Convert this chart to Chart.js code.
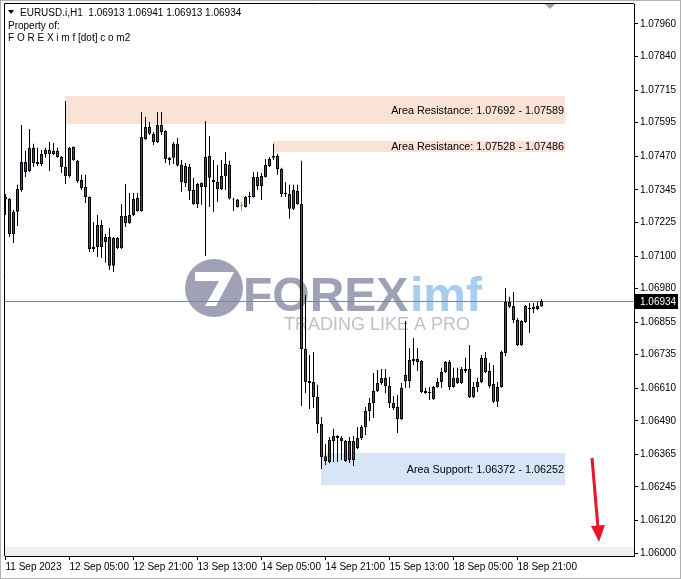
<!DOCTYPE html>
<html>
<head>
<meta charset="utf-8">
<script src="https://cdn.jsdelivr.net/npm/chart.js@4.4.0/dist/chart.umd.min.js"></script>
<style>
  html, body { margin: 0; padding: 0; background: #fff; }
  canvas { display: block; }
</style>
</head>
<body>
<canvas id="chart" width="681" height="579"></canvas>
<script>
// EURUSD H1 bars (11 Sep 2023 13:00 .. 19 Sep 01:00)
const symbol = "EURUSD.i,H1";
const opens = [
  1.07319, 1.07312, 1.07182, 1.07264, 1.07345, 1.07449, 1.07415, 1.07501, 1.07449, 1.07441,
  1.07478, 1.07493, 1.07478, 1.07490, 1.07467, 1.07430, 1.07397, 1.07504, 1.07453, 1.07382,
  1.07356, 1.07319, 1.07126, 1.07134, 1.07215, 1.07152, 1.07171, 1.07064, 1.07167, 1.07130,
  1.07249, 1.07223, 1.07252, 1.07315, 1.07267, 1.07534, 1.07579, 1.07553, 1.07523, 1.07586,
  1.07564, 1.07456, 1.07464, 1.07516, 1.07438, 1.07371, 1.07430, 1.07345, 1.07293, 1.07371,
  1.07356, 1.07471, 1.07382, 1.07375, 1.07349, 1.07397, 1.07438, 1.07312, 1.07310, 1.07287,
  1.07282, 1.07319, 1.07319, 1.07393, 1.07360, 1.07393, 1.07434, 1.07464, 1.07471, 1.07423,
  1.07330, 1.07330, 1.07275, 1.07341, 1.07293, 1.06756, 1.06637, 1.06634, 1.06578, 1.06478,
  1.06359, 1.06337, 1.06415, 1.06434, 1.06426, 1.06415, 1.06345, 1.06415, 1.06389, 1.06426,
  1.06467, 1.06526, 1.06556, 1.06600, 1.06630, 1.06649, 1.06619, 1.06556, 1.06541, 1.06497,
  1.06660, 1.06637, 1.06711, 1.06719, 1.06711, 1.06600, 1.06597, 1.06571, 1.06615, 1.06634,
  1.06671, 1.06708, 1.06615, 1.06649, 1.06630, 1.06682, 1.06682, 1.06578, 1.06615, 1.06634,
  1.06723, 1.06674, 1.06626, 1.06560, 1.06615, 1.06741, 1.06930, 1.06915, 1.06863, 1.06771,
  1.06856, 1.06904, 1.06904, 1.06904, 1.06913
];
const highs = [
  1.07330, 1.07315, 1.07271, 1.07364, 1.07586, 1.07490, 1.07571, 1.07516, 1.07501, 1.07493,
  1.07501, 1.07523, 1.07519, 1.07501, 1.07471, 1.07675, 1.07504, 1.07506, 1.07456, 1.07401,
  1.07401, 1.07321, 1.07226, 1.07252, 1.07234, 1.07182, 1.07204, 1.07171, 1.07171, 1.07293,
  1.07367, 1.07334, 1.07334, 1.07334, 1.07634, 1.07616, 1.07597, 1.07560, 1.07634, 1.07634,
  1.07566, 1.07467, 1.07523, 1.07538, 1.07456, 1.07445, 1.07441, 1.07390, 1.07371, 1.07373,
  1.07601, 1.07545, 1.07456, 1.07438, 1.07456, 1.07486, 1.07453, 1.07315, 1.07312, 1.07301,
  1.07323, 1.07338, 1.07412, 1.07412, 1.07408, 1.07460, 1.07467, 1.07516, 1.07478, 1.07427,
  1.07375, 1.07364, 1.07364, 1.07364, 1.07453, 1.06956, 1.06734, 1.06745, 1.06623, 1.06504,
  1.06404, 1.06430, 1.06460, 1.06437, 1.06434, 1.06419, 1.06430, 1.06434, 1.06467, 1.06474,
  1.06541, 1.06574, 1.06667, 1.06678, 1.06682, 1.06682, 1.06652, 1.06582, 1.06585, 1.06630,
  1.06860, 1.06760, 1.06797, 1.06760, 1.06715, 1.06612, 1.06615, 1.06619, 1.06649, 1.06686,
  1.06711, 1.06715, 1.06686, 1.06686, 1.06689, 1.06723, 1.06771, 1.06634, 1.06649, 1.06734,
  1.06745, 1.06704, 1.06697, 1.06634, 1.06749, 1.06982, 1.06949, 1.06967, 1.06871, 1.06862,
  1.06919, 1.06926, 1.06926, 1.06930, 1.06941
];
const lows = [
  1.07252, 1.07171, 1.07149, 1.07212, 1.07338, 1.07393, 1.07412, 1.07430, 1.07434, 1.07434,
  1.07464, 1.07415, 1.07475, 1.07464, 1.07408, 1.07367, 1.07390, 1.07453, 1.07371, 1.07345,
  1.07297, 1.07115, 1.07115, 1.07097, 1.07093, 1.07075, 1.07049, 1.07041, 1.07126, 1.07126,
  1.07208, 1.07219, 1.07249, 1.07264, 1.07264, 1.07530, 1.07549, 1.07512, 1.07519, 1.07549,
  1.07445, 1.07438, 1.07441, 1.07432, 1.07338, 1.07356, 1.07308, 1.07290, 1.07278, 1.07290,
  1.07100, 1.07282, 1.07264, 1.07301, 1.07345, 1.07345, 1.07310, 1.07267, 1.07280, 1.07267,
  1.07280, 1.07293, 1.07317, 1.07345, 1.07308, 1.07391, 1.07430, 1.07456, 1.07401, 1.07319,
  1.07319, 1.07238, 1.07271, 1.07290, 1.06545, 1.06593, 1.06534, 1.06537, 1.06445, 1.06311,
  1.06326, 1.06333, 1.06337, 1.06337, 1.06345, 1.06337, 1.06334, 1.06322, 1.06385, 1.06419,
  1.06437, 1.06489, 1.06500, 1.06597, 1.06623, 1.06593, 1.06537, 1.06530, 1.06445, 1.06493,
  1.06612, 1.06612, 1.06697, 1.06674, 1.06593, 1.06589, 1.06567, 1.06567, 1.06612, 1.06612,
  1.06667, 1.06604, 1.06612, 1.06626, 1.06626, 1.06667, 1.06574, 1.06574, 1.06597, 1.06630,
  1.06667, 1.06612, 1.06556, 1.06541, 1.06612, 1.06730, 1.06908, 1.06852, 1.06767, 1.06767,
  1.06852, 1.06815, 1.06889, 1.06900, 1.06913
];
const closes = [
  1.07310, 1.07182, 1.07264, 1.07349, 1.07449, 1.07412, 1.07501, 1.07445, 1.07441, 1.07478,
  1.07493, 1.07478, 1.07490, 1.07467, 1.07430, 1.07397, 1.07501, 1.07456, 1.07378, 1.07352,
  1.07319, 1.07126, 1.07134, 1.07215, 1.07134, 1.07171, 1.07064, 1.07167, 1.07130, 1.07249,
  1.07223, 1.07252, 1.07312, 1.07267, 1.07541, 1.07579, 1.07553, 1.07523, 1.07586, 1.07560,
  1.07460, 1.07464, 1.07516, 1.07436, 1.07375, 1.07434, 1.07341, 1.07293, 1.07367, 1.07356,
  1.07467, 1.07390, 1.07375, 1.07349, 1.07397, 1.07441, 1.07313, 1.07310, 1.07282, 1.07287,
  1.07319, 1.07323, 1.07393, 1.07360, 1.07397, 1.07438, 1.07460, 1.07471, 1.07423, 1.07330,
  1.07334, 1.07275, 1.07345, 1.07293, 1.06756, 1.06634, 1.06630, 1.06578, 1.06478, 1.06356,
  1.06341, 1.06419, 1.06434, 1.06426, 1.06415, 1.06341, 1.06415, 1.06345, 1.06426, 1.06467,
  1.06526, 1.06556, 1.06600, 1.06630, 1.06649, 1.06619, 1.06556, 1.06537, 1.06497, 1.06612,
  1.06637, 1.06715, 1.06719, 1.06708, 1.06597, 1.06593, 1.06593, 1.06615, 1.06634, 1.06671,
  1.06708, 1.06615, 1.06649, 1.06630, 1.06682, 1.06674, 1.06578, 1.06615, 1.06634, 1.06723,
  1.06671, 1.06619, 1.06560, 1.06615, 1.06745, 1.06930, 1.06912, 1.06863, 1.06771, 1.06860,
  1.06915, 1.06908, 1.06912, 1.06915, 1.06934
];

const yTickLabels = [
  "1.06000", "1.06120", "1.06245", "1.06365", "1.06490", "1.06610", "1.06735", "1.06855", "1.06980",
  "1.07100", "1.07225", "1.07345", "1.07470", "1.07595", "1.07715", "1.07840", "1.07960"
];
const xTickLabels = [
  "11 Sep 2023", "12 Sep 05:00", "12 Sep 21:00", "13 Sep 13:00", "14 Sep 05:00",
  "14 Sep 21:00", "15 Sep 13:00", "18 Sep 05:00", "18 Sep 21:00"
];
const barsPerXTick = 16;

// rectangles drawn on the chart
const zoneNames = ["Area Resistance", "Area Resistance", "Area Support"];
const zoneTop = [1.07692, 1.07528, 1.06372];
const zoneBottom = [1.07589, 1.07486, 1.06252];
const zoneFromBar = [15, 67, 79];
const zoneToBar = [140, 140, 140];

const BULL = "#0b7d0b", BEAR = "#ee1111", DOJI = "#00ff00";
const RES_FILL = "#fbe2d6", SUP_FILL = "#d6e6f6";
const BAR_STEP = 4; // px per hour bar, first bar centred on pixel column 5

Chart.defaults.font.family = "'Liberation Sans', Arial, sans-serif";
Chart.defaults.font.size = 10;
Chart.defaults.color = "#000";

const isDoji = i => opens[i] === closes[i];
const last = closes.length - 1;

const mt4Decor = {
  id: "mt4Decor",
  afterLayout(chart) {
    // keep every candle on whole pixels
    const x = chart.scales.x;
    x.min = -(5.5 - x.left) / BAR_STEP;
    x.max = x.min + (x.right - x.left) / BAR_STEP;
    x.configure();
  },
  beforeDatasetsDraw(chart) {
    const { ctx, chartArea: a, scales: { x, y } } = chart;
    ctx.save();
    // grey strip at the bottom of the window
    ctx.fillStyle = "#efefef";
    ctx.fillRect(a.left, a.bottom - 9, a.right - a.left, 9);

    // zones
    zoneNames.forEach((name, k) => {
      const x0 = Math.round(x.getPixelForValue(zoneFromBar[k]) - 0.5);
      const x1 = Math.round(x.getPixelForValue(zoneToBar[k]) - 0.5);
      const y0 = Math.round(y.getPixelForValue(zoneTop[k]));
      const y1 = Math.round(y.getPixelForValue(zoneBottom[k]));
      ctx.fillStyle = name.indexOf("Support") >= 0 ? SUP_FILL : RES_FILL;
      ctx.fillRect(x0, y0, x1 - x0, y1 - y0);
      ctx.fillStyle = "#000";
      ctx.font = "10.8px 'Liberation Sans', Arial, sans-serif";
      ctx.textAlign = "right";
      ctx.textBaseline = "middle";
      ctx.fillText(name + ": " + zoneTop[k].toFixed(5) + " - " + zoneBottom[k].toFixed(5), x1 - 1, (y0 + y1) / 2 + 1);
    });

    // watermark
    ctx.fillStyle = "rgba(150,150,175,0.9)";
    ctx.beginPath();
    ctx.arc(214, 288, 29, 0, Math.PI * 2);
    ctx.fill();
    ctx.fillStyle = "#fff";
    ctx.beginPath();
    ctx.moveTo(195, 272); ctx.lineTo(234, 272); ctx.lineTo(216, 306);
    ctx.lineTo(205, 306); ctx.lineTo(219, 281); ctx.lineTo(195, 281);
    ctx.closePath();
    ctx.fill();
    ctx.textAlign = "left";
    ctx.textBaseline = "alphabetic";
    ctx.font = "bold 48px 'Liberation Sans', Arial, sans-serif";
    ctx.fillStyle = "rgba(150,150,175,0.9)";
    ctx.fillText("FOREX", 243, 311);
    ctx.fillStyle = "rgba(160,200,235,0.9)";
    ctx.fillText("imf", 410, 311);
    ctx.font = "18px 'Liberation Sans', Arial, sans-serif";
    ctx.fillStyle = "rgba(185,185,198,0.9)";
    ctx.fillText("TRADING LIKE A PRO", 284, 330);

    // bid line
    const py = Math.round(y.getPixelForValue(closes[last])) + 0.5;
    ctx.strokeStyle = "#778899";
    ctx.lineWidth = 1;
    ctx.beginPath();
    ctx.moveTo(a.left, py);
    ctx.lineTo(a.right, py);
    ctx.stroke();
    ctx.restore();
  },
  afterDraw(chart) {
    const { ctx, chartArea: a, scales: { y } } = chart;
    ctx.save();
    // window frame
    ctx.strokeStyle = "#b0b0b0";
    ctx.lineWidth = 1;
    ctx.strokeRect(0.5, 0.5, chart.width - 1, chart.height - 1);
    ctx.strokeStyle = "#000";
    ctx.beginPath();
    ctx.moveTo(a.left - 0.5, a.bottom);
    ctx.lineTo(a.left - 0.5, a.top - 0.5);
    ctx.lineTo(a.right, a.top - 0.5);
    ctx.stroke();

    // header
    ctx.fillStyle = "#000";
    ctx.beginPath();
    ctx.moveTo(8, 10); ctx.lineTo(14, 10); ctx.lineTo(11, 14);
    ctx.closePath();
    ctx.fill();
    ctx.font = "10px 'Liberation Sans', Arial, sans-serif";
    ctx.textAlign = "left";
    ctx.textBaseline = "alphabetic";
    ctx.fillText(symbol + "  " + [opens[last], highs[last], lows[last], closes[last]].map(v => v.toFixed(5)).join(" "), 20, 16);
    ctx.fillText("Property of:", 8, 29);
    ctx.fillText("F O R E X i m f [dot] c o m2", 8, 41);

    // chart shift marker
    ctx.fillStyle = "#a0a0a0";
    ctx.beginPath();
    ctx.moveTo(545, 4); ctx.lineTo(555, 4); ctx.lineTo(550, 9);
    ctx.closePath();
    ctx.fill();

    // price tag
    const py = Math.round(y.getPixelForValue(closes[last]));
    ctx.fillStyle = "#000";
    ctx.fillRect(a.right + 1, py - 7, 43, 15);
    ctx.fillStyle = "#fff";
    ctx.textBaseline = "middle";
    ctx.fillText(closes[last].toFixed(5), a.right + 6, py + 1);

    // red arrow
    ctx.strokeStyle = "#e3182c";
    ctx.fillStyle = "#e3182c";
    ctx.lineWidth = 3;
    ctx.beginPath();
    ctx.moveTo(592, 458);
    ctx.lineTo(598, 528);
    ctx.stroke();
    ctx.beginPath();
    ctx.moveTo(599, 542); ctx.lineTo(591, 526); ctx.lineTo(605, 525);
    ctx.closePath();
    ctx.fill();
    ctx.restore();
  }
};

new Chart(document.getElementById("chart"), {
  type: "bar",
  data: {
    datasets: [
      {
        label: "wick",
        order: 2,
        grouped: false,
        barThickness: 1,
        inflateAmount: 0,
        borderWidth: 0,
        data: lows.map((l, i) => ({ x: i, y: [l, highs[i]] })),
        backgroundColor: lows.map((l, i) => (isDoji(i) ? DOJI : "#000"))
      },
      {
        label: "body",
        order: 1,
        grouped: false,
        barThickness: 3,
        inflateAmount: 0,
        borderSkipped: false,
        data: opens.map((o, i) => ({
          x: i,
          y: isDoji(i) ? [o - 0.00002, o + 0.00002] : [Math.min(o, closes[i]), Math.max(o, closes[i])]
        })),
        backgroundColor: opens.map((o, i) => (isDoji(i) ? DOJI : closes[i] > o ? BULL : BEAR)),
        borderColor: "#000",
        borderWidth: opens.map((o, i) => (isDoji(i) ? 0 : 1))
      }
    ]
  },
  options: {
    responsive: false,
    animation: false,
    layout: { padding: { left: 5, top: 4, right: 0, bottom: 5 } },
    plugins: { legend: { display: false }, tooltip: { enabled: false } },
    scales: {
      x: {
        type: "linear",
        position: "bottom",
        offset: false,
        min: -0.125,
        max: 157.125,
        afterBuildTicks: s => { s.ticks = xTickLabels.map((t, k) => ({ value: k * barsPerXTick })); },
        afterFit: s => { s.height = 18; s.paddingLeft = 0; s.paddingRight = 0; },
        ticks: {
          autoSkip: false,
          maxRotation: 0,
          align: "start",
          padding: 1,
          callback: (v, i) => xTickLabels[i]
        },
        grid: { drawOnChartArea: false, offset: false, tickLength: 4, color: "#000" },
        border: { color: "#000" }
      },
      y: {
        position: "right",
        beginAtZero: false,
        min: 1.05989,
        max: 1.08034,
        afterBuildTicks: s => { s.ticks = yTickLabels.map(t => ({ value: parseFloat(t) })); },
        afterFit: s => { s.width = 47; s.paddingTop = 0; s.paddingBottom = 0; },
        ticks: { padding: 2, callback: (v, i) => yTickLabels[i] },
        grid: { drawOnChartArea: false, tickLength: 4, color: "#000" },
        border: { color: "#000" }
      }
    }
  },
  plugins: [mt4Decor]
});
</script>
</body>
</html>
